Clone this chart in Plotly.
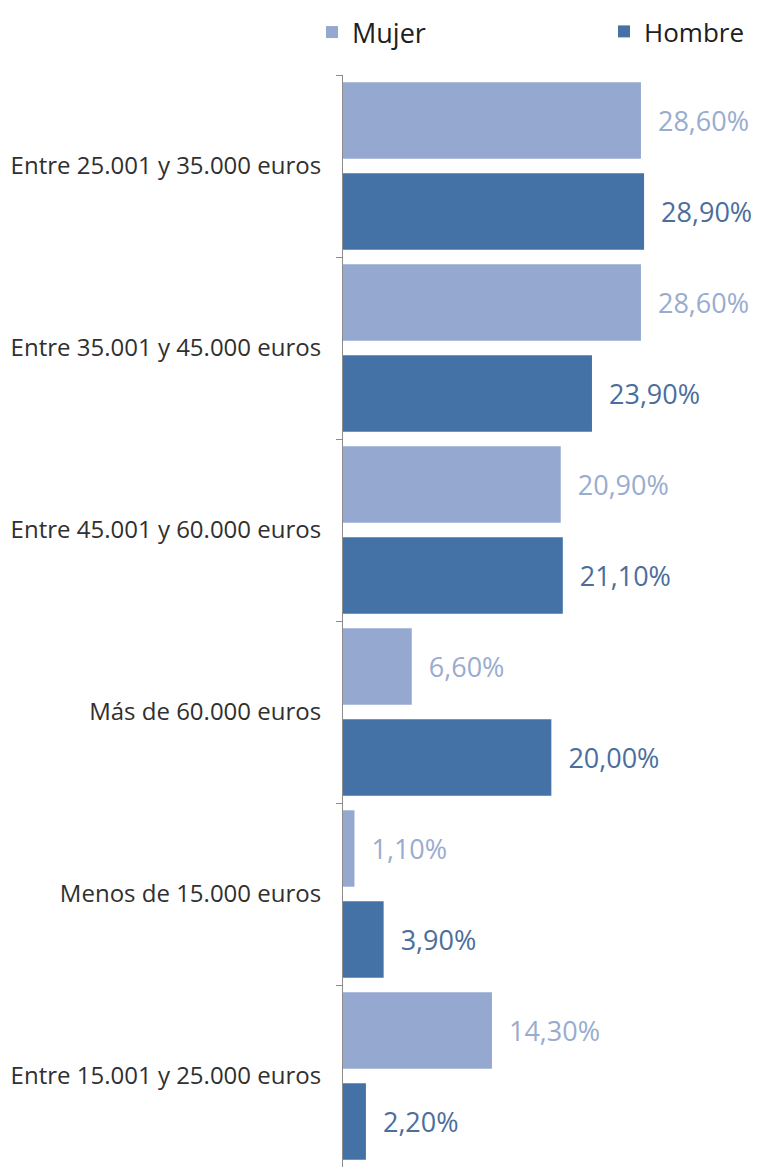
import plotly.graph_objects as go

categorias = [
    "Entre 25.001 y 35.000 euros",
    "Entre 35.001 y 45.000 euros",
    "Entre 45.001 y 60.000 euros",
    "Más de 60.000 euros",
    "Menos de 15.000 euros",
    "Entre 15.001 y 25.000 euros",
]
mujer = [28.6, 28.6, 20.9, 6.6, 1.1, 14.3]
hombre = [28.9, 23.9, 21.1, 20.0, 3.9, 2.2]

c_mujer = "#95A9D0"
c_hombre = "#4472A6"
font_family = "'Open Sans', Lato, sans-serif"

fig = go.Figure()
fig.add_trace(go.Bar(
    y=categorias, x=mujer, name="Mujer", orientation="h",
    marker=dict(color=c_mujer, line=dict(width=0)),
    texttemplate="  %{x:.2f}%", textposition="outside", cliponaxis=False,
    textfont=dict(color="#98ACD0", size=27, family=font_family),
    legend="legend",
))
fig.add_trace(go.Bar(
    y=categorias, x=hombre, name="Hombre", orientation="h",
    marker=dict(color=c_hombre, line=dict(width=0)),
    texttemplate="  %{x:.2f}%", textposition="outside", cliponaxis=False,
    textfont=dict(color="#4B6E9C", size=27, family=font_family),
    legend="legend2",
))

fig.update_layout(
    width=759, height=1169,
    margin=dict(l=335, r=0, t=67, b=10),
    paper_bgcolor="white", plot_bgcolor="white",
    barmode="group", bargap=0.0, bargroupgap=0.16,
    separators=",.",
    font=dict(family=font_family, color="#404040"),
    xaxis=dict(range=[0, 40.7], visible=False, fixedrange=True),
    yaxis=dict(
        autorange="reversed", showline=True, linecolor="#8C8C8C", linewidth=1,
        ticks="outside", tickson="boundaries", ticklen=6, tickcolor="#8C8C8C",
        tickfont=dict(size=24, color="#303030", family=font_family),
        ticklabelstandoff=16, showgrid=False, zeroline=False,
    ),
    legend=dict(orientation="h", xref="container", yref="container",
                x=304 / 759, xanchor="left", y=1.0, yanchor="top",
                font=dict(size=27, color="#202020", family=font_family),
                bgcolor="rgba(0,0,0,0)", itemwidth=30),
    legend2=dict(orientation="h", xref="container", yref="container",
                 x=596 / 759, xanchor="left", y=1.0, yanchor="top",
                 font=dict(size=26, color="#202020", family=font_family),
                 bgcolor="rgba(0,0,0,0)", itemwidth=30),
    showlegend=True,
)

fig.write_html("out.html")
